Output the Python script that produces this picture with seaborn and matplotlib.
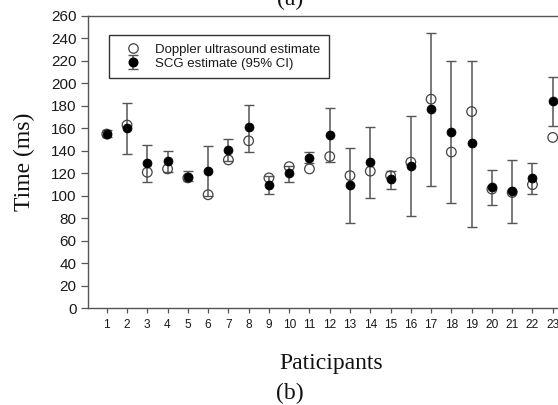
import numpy as np
import pandas as pd
import matplotlib
matplotlib.use("Agg")
import matplotlib.pyplot as plt
from matplotlib.lines import Line2D
import seaborn as sns

# Per-participant ejection timing estimates (ms)
participants = list(range(1, 24))
doppler = [155, 163, 121, 124, 116, 101, 132, 149, 116, 126, 124, 135,
           118, 122, 118, 130, 186, 139, 175, 106, 103, 110, 152]
scg = [155, 160, 129, 131, 117, 122, 141, 161, 110, 120, 134, 154,
       110, 130, 115, 127, 177, 157, 147, 108, 104, 116, 184]
scg_lo = [152, 137, 112, 121, 113, 100, 131, 139, 102, 112, 129, 130,
          76, 98, 106, 82, 109, 94, 72, 92, 76, 102, 162]
scg_hi = [159, 183, 145, 140, 122, 144, 151, 181, 118, 127, 139, 178,
          143, 161, 122, 171, 245, 220, 220, 123, 132, 129, 206]
y_ticks = list(range(0, 261, 20))

df = pd.DataFrame({"participant": participants, "doppler": doppler,
                   "scg": scg, "lo": scg_lo, "hi": scg_hi})

sns.set_theme(style="white")
plt.rcParams["font.family"] = ["Liberation Sans", "DejaVu Sans"]

W, H = 558, 405
fig = plt.figure(figsize=(W / 100, H / 100), dpi=100)
left, right, top, bottom = 88.3, 560.0, 16.0, 308.3
ax = fig.add_axes([left / W, 1 - bottom / H, (right - left) / W, (bottom - top) / H])

grey = "#555555"

# Doppler estimates: open circles
sns.scatterplot(data=df, x="participant", y="doppler", ax=ax, marker="o",
                s=48, facecolors="none", edgecolor="#444444", linewidth=0.9,
                zorder=3, legend=False)

# SCG 95% confidence intervals
yerr = np.vstack([df["scg"] - df["lo"], df["hi"] - df["scg"]])
ax.errorbar(df["participant"], df["scg"], yerr=yerr, fmt="none",
            ecolor=grey, elinewidth=1.1, capsize=3.3, capthick=1.0, zorder=2)

# SCG point estimates: filled circles
sns.scatterplot(data=df, x="participant", y="scg", ax=ax, marker="o",
                s=42, color="black", edgecolor="black", linewidth=0.5,
                zorder=4, legend=False)

ax.set_xlim(0.09, 23.36)
ax.set_ylim(0, 260)
ax.set_xticks(participants)
ax.set_yticks(y_ticks)
ax.tick_params(axis="y", direction="out", length=5, width=0.9, color=grey,
               pad=3.5, labelsize=11, labelcolor="#1a1a1a", left=True)
ax.tick_params(axis="x", direction="out", length=3.6, width=0.9, color=grey,
               pad=4, labelsize=8.6, labelcolor="#1a1a1a", bottom=True)

for side in ["left", "bottom", "top"]:
    ax.spines[side].set_color(grey)
    ax.spines[side].set_linewidth(1.0)
ax.spines["right"].set_visible(False)

serif = ["Liberation Serif", "DejaVu Serif"]
ax.set_ylabel("Time (ms)", family=serif, fontsize=17, color="#111111", va="center")
ax.yaxis.set_label_coords((24 - left) / (right - left), 0.5)
ax.set_xlabel("Paticipants", family=serif, fontsize=17, color="#111111", va="center")
ax.xaxis.set_label_coords((331 - left) / (right - left), -(364 - bottom) / (bottom - top))

fig.text(290 / W, 1 - 393 / H, "(b)", family=serif, fontsize=17,
         ha="center", va="center", color="#111111")
fig.text(290 / W, 1 - 5 / H, "(a)", family=serif, fontsize=17,
         ha="center", va="baseline", color="#111111")

# Legend
h_dop = Line2D([], [], linestyle="none", marker="o", markersize=6.8,
               markerfacecolor="none", markeredgecolor="#444444", markeredgewidth=0.9)
h_scg = ax.errorbar([np.nan], [np.nan], yerr=[[1], [1]], fmt="o", color="black",
                    markersize=6.2, ecolor=grey, elinewidth=1.1, capsize=3.3)
leg = ax.legend([h_dop, h_scg], ["Doppler ultrasound estimate", "SCG estimate (95% CI)"],
                loc="upper left", bbox_to_anchor=(108.7 / W, 1 - 35 / H),
                bbox_transform=fig.transFigure, borderaxespad=0, frameon=True,
                fancybox=False, edgecolor="#333333", framealpha=1,
                fontsize=9.5, borderpad=0.65, handlelength=2.33, handletextpad=0.53,
                labelspacing=0.12)
leg.get_frame().set_linewidth(1.0)
for t in leg.get_texts():
    t.set_color("#1a1a1a")

fig.savefig("out.png", dpi=100)
